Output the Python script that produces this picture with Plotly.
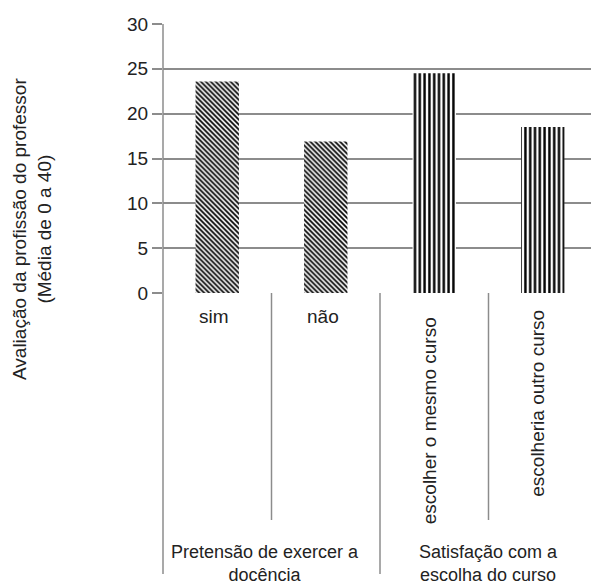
import plotly.graph_objects as go

categories = ["sim", "não", "escolher o mesmo curso", "escolheria outro curso"]
values = [23.6, 16.9, 24.5, 18.5]
patterns = ["\\", "\\", "|", "|"]
pattern_sizes = [3.5, 3.5, 4.8, 4.8]
groups = ["Pretensão de exercer a<br>docência", "Satisfação com a<br>escolha do curso"]
y_ticks = [0, 5, 10, 15, 20, 25, 30]
y_title = "Avaliação da profissão do professor<br>(Média de 0 a 40)"

FONT = "Liberation Sans, Arial, sans-serif"
GRAY = "#8c8c8c"
TXT = "#222"
FS = 19

W, H = 591, 587
L, T, B = 163, 24, 587 - 293
plot_h = H - T - B
plot_w = W - L

def py(pix):
    return (H - B - pix) / plot_h

fig = go.Figure()
fig.add_trace(go.Bar(
    x=list(range(len(categories))), y=values, width=0.4,
    marker=dict(color="white", line=dict(width=0),
                pattern=dict(shape=patterns, size=pattern_sizes, solidity=0.5,
                             fgcolor="black", bgcolor="white", fillmode="replace")),
    hoverinfo="skip",
))

shapes = []
shapes.append(dict(type="line", xref="paper", yref="paper", x0=0, x1=0,
                   y0=1, y1=py(574), line=dict(color=GRAY, width=1.5)))
for xv, ybot in [(0.5, 520), (1.5, 574), (2.5, 520)]:
    shapes.append(dict(type="line", xref="x", yref="paper", x0=xv, x1=xv,
                       y0=0, y1=py(ybot), line=dict(color=GRAY, width=1.5)))

def note(text, x, y, xref="x", xshift=0, angle=0, size=FS):
    return dict(text=text, x=x, y=y, xref=xref, yref="paper", xshift=xshift,
                xanchor="center", yanchor="middle", textangle=angle,
                showarrow=False, font=dict(size=size, family=FONT, color=TXT))

ann = [
    note(categories[0], 0, py(316), xshift=-3),
    note(categories[1], 1, py(316), xshift=-3),
    note(categories[2], 2, py(421), xshift=-5, angle=-90),
    note(categories[3], 3, py(403), xshift=-6, angle=-90),
    note(groups[0], 0.5, py(563), xshift=-7, size=18),
    note(groups[1], 2.5, py(563), size=18),
    note(y_title, (32 - L) / plot_w, py(229), xref="paper", angle=-90, size=19),
]
fig.update_layout(shapes=shapes, annotations=ann)

fig.update_layout(
    width=W, height=H, margin=dict(l=L, r=0, t=T, b=B),
    paper_bgcolor="white", plot_bgcolor="white", showlegend=False,
    font=dict(family=FONT, size=FS, color=TXT),
)
fig.update_xaxes(range=[-0.5, -0.5 + plot_w / 108.5], showticklabels=False,
                 showgrid=False, zeroline=False, showline=False, ticks="")
fig.update_yaxes(range=[0, 30], tickvals=y_ticks, showgrid=True, gridcolor=GRAY,
                 gridwidth=1.5, zeroline=False, showline=False, ticks="outside",
                 ticklen=10, tickcolor=GRAY, tickwidth=1.5,
                 tickfont=dict(size=FS, family=FONT, color=TXT))

fig.write_html("out.html", config={"displayModeBar": False},
               post_script="document.body.style.margin='0';")
